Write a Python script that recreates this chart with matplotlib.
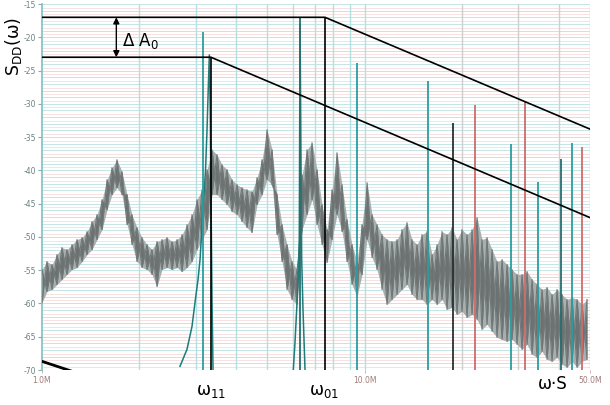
import numpy as np
import matplotlib
matplotlib.use('Agg')
import matplotlib.pyplot as plt

plt.rcParams['mathtext.default'] = 'regular'

# ---- data (frequency in MHz, level in dB) ----
noise_f = [1.000, 1.036, 1.074, 1.113, 1.153, 1.195, 1.239, 1.284, 1.331, 1.379,
           1.429, 1.481, 1.535, 1.591, 1.648, 1.708, 1.770, 1.835, 1.901, 1.970,
           2.042, 2.116, 2.193, 2.273, 2.355, 2.441, 2.530, 2.622, 2.717, 2.816,
           2.918, 3.024, 3.134, 3.248, 3.366, 3.488, 3.615, 3.746, 3.882, 4.024,
           4.170, 4.321, 4.478, 4.641, 4.810, 4.985, 5.166, 5.353, 5.548, 5.749,
           5.958, 6.175, 6.399, 6.632, 6.873, 7.122, 7.381, 7.649, 7.927, 8.215,
           8.513, 8.822, 9.143, 9.475, 9.819, 10.18, 10.55, 10.93, 11.33, 11.74,
           12.16, 12.61, 13.06, 13.54, 14.03, 14.54, 15.07, 15.62, 16.19, 16.78,
           17.39, 18.02, 18.67, 19.35, 20.05, 20.78, 21.54, 22.32, 23.13, 23.97,
           24.85, 25.75, 26.69, 27.66, 28.66, 29.70, 30.78, 31.90, 33.06, 34.26,
           35.50, 36.80, 38.13, 39.52, 40.95, 42.44, 43.98, 45.58, 47.24, 48.95]
noise_hi = [-54.9, -53.7, -54.15, -52.65, -51.6, -51.9, -51.15, -50.4, -50.1, -49.2,
            -47.7, -46.65, -44.4, -41.4, -39.6, -38.4, -40.2, -43.65, -46.65, -48.6,
            -50.1, -51.15, -51.9, -50.7, -50.4, -50.1, -50.7, -50.4, -49.65, -48.15,
            -46.65, -44.4, -42.9, -39.9, -36.9, -37.65, -39.15, -39.9, -41.4, -42.15,
            -42.6, -42.9, -43.2, -41.1, -38.4, -33.9, -36.9, -43.65, -48.15, -51.15,
            -53.7, -54.9, -40.65, -36.9, -35.85, -39.9, -45.15, -48.9, -42.9, -37.35,
            -42.15, -47.4, -51.15, -53.7, -48.15, -41.85, -46.65, -48.15, -49.65, -50.4,
            -50.7, -50.4, -48.9, -47.85, -50.4, -51.15, -49.65, -49.2, -52.65, -51.15,
            -49.2, -49.65, -48.6, -50.4, -48.9, -49.65, -48.9, -47.1, -50.4, -50.1,
            -51.9, -53.7, -53.4, -54.15, -54.9, -55.65, -55.65, -55.2, -56.4, -57.15,
            -57.9, -57.6, -58.65, -57.9, -58.65, -59.4, -59.1, -59.4, -60.15, -59.4]
noise_lo = [-59.85, -58.2, -57.9, -57.15, -56.4, -55.65, -54.9, -54.6, -53.7, -52.65,
            -51.9, -50.4, -48.9, -45.9, -43.65, -42.6, -43.65, -48.15, -51.15, -53.7,
            -54.6, -54.9, -55.65, -57.45, -54.9, -54.6, -54.9, -54.6, -55.2, -54.6,
            -53.7, -51.9, -50.4, -48.9, -43.65, -43.65, -44.4, -45.15, -46.2, -46.65,
            -47.7, -48.6, -49.35, -45.15, -43.65, -41.4, -42.15, -49.65, -53.7, -57.9,
            -59.4, -60.15, -48.9, -46.65, -44.4, -48.15, -51.15, -53.85, -50.4, -46.65,
            -49.2, -53.7, -57.15, -58.95, -55.65, -50.4, -53.1, -54.9, -57.9, -60.15,
            -59.4, -58.65, -57.9, -57.15, -58.65, -59.4, -59.4, -60.15, -59.4, -60.15,
            -59.4, -60.9, -60.6, -61.65, -61.2, -62.1, -61.65, -62.4, -63.9, -63.15,
            -64.2, -65.1, -65.4, -65.7, -65.4, -66.15, -66.9, -66.15, -67.65, -68.1,
            -67.2, -68.4, -68.7, -68.1, -69.15, -69.6, -68.7, -69.6, -68.7, -68.4]

res1_f = [2.678, 2.815, 2.918, 2.981, 3.046, 3.090, 3.157, 3.214, 3.248, 3.278,
          3.302, 3.323, 3.342, 3.366, 3.390]
res1_db = [-69.45, -66.9, -63.45, -59.85, -56.4, -53.4, -45.9, -39.9, -33.9, -27.45,
           -22.65, -30.9, -44.4, -59.4, -69.9]
res2_f = [6.014, 6.087, 6.160, 6.231, 6.275, 6.310, 6.384, 6.444, 6.537]
res2_db = [-69.9, -65.85, -60.9, -55.95, -50.4, -18.0, -53.4, -60.9, -69.9]

tail_f = [1.0, 1.24]
tail_db = [-68.7, -70.2]

spike_f = [3.16, 6.31, 9.48, 15.7, 18.8, 22.0, 28.4, 31.5, 34.5, 40.7, 44.0, 47.2]
spike_top = [-19.2, -17.0, -23.9, -26.6, -32.9, -30.2, -36.0, -29.6, -41.7, -38.3, -35.9, -36.5]
spike_kind = ['t', 'd', 't', 't', 'k', 'r', 't', 'r', 't', 'd', 't', 'r']

upper_f = [1.0, 7.54, 50.0]
upper_db = [-17.0, -17.0, -33.8]
lower_f = [1.0, 3.34, 50.0]
lower_db = [-23.0, -23.0, -47.1]
w11, w01 = 3.34, 7.54
arrow_f = 1.70

xticks = [1.0, 10.0, 50.0]
xtick_labels = ['1.0M', '10.0M', '50.0M']
yticks = list(range(-70, -14, 5))

vgrid = [2, 3, 4, 5, 6, 7, 8, 9, 10, 20, 30, 40, 50]

# ---- figure ----
fig = plt.figure(figsize=(6.1, 4.05), dpi=100)
ax = fig.add_axes([42 / 610, 1 - 370 / 405, 548 / 610, 366 / 405])
ax.set_xscale('log')
ax.set_xlim(1.0, 50.0)
ax.set_ylim(-70, -15)

# grid
for v in np.arange(-70, -14, 1.0):
    ax.axhline(v, color='#c4e6e6', lw=0.7, zorder=0)
    ax.axhline(v + 0.45, color='#f6dcdc', lw=0.6, zorder=0)
for g in vgrid:
    c = '#cfcfcf' if g in (20, 30, 40) else '#b4e0e0'
    ax.axvline(g, color=c, lw=1.0, zorder=0)

# noise spectrum: light envelope + jagged dark core
zig_a = [noise_hi[i] if i % 2 == 0 else noise_lo[i] for i in range(len(noise_f))]
zig_b = [noise_lo[i] if i % 2 == 0 else noise_hi[i] for i in range(len(noise_f))]
ax.fill_between(noise_f, noise_lo, noise_hi, color='#a7afaf', lw=0, zorder=2)
ax.fill_between(noise_f, zig_a, zig_b, color='#6c7272', lw=0, zorder=3)
ax.plot(noise_f, zig_a, color='#727878', lw=0.8, zorder=3)
ax.plot(noise_f, zig_b, color='#727878', lw=0.8, zorder=3)

# resonance curves
ax.plot(res1_f, res1_db, color='#1f7a7a', lw=1.1, zorder=4)
ax.plot(res2_f, res2_db, color='#1f7a7a', lw=1.1, zorder=4)
ax.plot(tail_f, tail_db, color='black', lw=2.0, zorder=4, clip_on=True)

# spikes
kind_colors = {'t': '#2a9d9d', 'd': '#266e6e', 'k': '#2a2f2f', 'r': '#cf6b6b'}
for f, top, k in zip(spike_f, spike_top, spike_kind):
    ax.vlines(f, -70, top, color=kind_colors[k], lw=1.3, zorder=5)

# limit lines
ax.plot(upper_f, upper_db, color='black', lw=1.2, zorder=6)
ax.plot(lower_f, lower_db, color='black', lw=1.2, zorder=6)
ax.vlines([w11], -70, lower_db[1], color='black', lw=1.2, zorder=6)
ax.vlines([w01], -70, upper_db[1], color='black', lw=1.2, zorder=6)

ax.annotate('', xy=(arrow_f, upper_db[0]), xytext=(arrow_f, lower_db[0]),
            arrowprops=dict(arrowstyle='<|-|>', color='black', lw=1.0,
                            mutation_scale=9, shrinkA=0, shrinkB=0), zorder=7)
ax.text(1.77, -20.6, 'Δ A$_0$', fontsize=12, va='center', ha='left', zorder=7)

# axes styling
for s in ('top', 'right', 'bottom'):
    ax.spines[s].set_visible(False)
ax.spines['left'].set_color('#7fc0c0')
ax.spines['left'].set_linewidth(1.2)
ax.set_yticks(yticks)
ax.set_yticklabels([str(v) for v in yticks])
ax.tick_params(axis='y', colors='#7fb0b0', labelcolor='#6a8080', labelsize=5.5,
               length=3, width=0.8, pad=1)
ax.set_xticks(xticks)
ax.set_xticklabels(xtick_labels)
ax.xaxis.set_minor_locator(matplotlib.ticker.NullLocator())
ax.tick_params(axis='x', colors='#d0a0a0', labelcolor='#a07a7a', labelsize=5.5,
               length=2, width=0.6, pad=2)

# outer labels
fig.text(14 / 610, 1 - 46 / 405, 'S$_{DD}$(ω)', rotation=90, fontsize=12.5,
         ha='center', va='center')
fig.text(211 / 610, 1 - 391 / 405, 'ω$_{11}$', fontsize=12, ha='center', va='center')
fig.text(324 / 610, 1 - 391 / 405, 'ω$_{01}$', fontsize=12, ha='center', va='center')
fig.text(553 / 610, 1 - 384 / 405, 'ω·S', fontsize=12, ha='center', va='center')

fig.savefig('out.png', dpi=100)
